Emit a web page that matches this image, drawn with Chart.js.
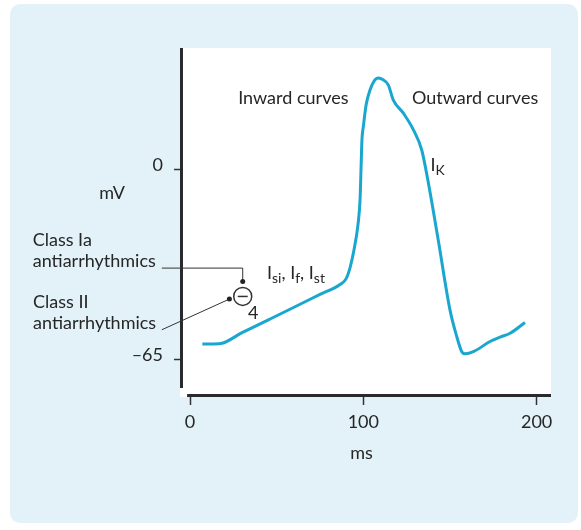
<!DOCTYPE html>
<html>
<head>
<meta charset="utf-8">
<script src="https://cdn.jsdelivr.net/npm/chart.js@4"></script>
<style>
  html, body { margin: 0; padding: 0; background: #fff; }
  #wrap { position: relative; width: 581px; height: 530px; }
  #panel { position: absolute; left: 10px; top: 4px; width: 568px; height: 519px; background: #e3f2f8; border-radius: 10px; }
  canvas { position: absolute; left: 0; top: 0; }
</style>
</head>
<body>
<div id="wrap"><div id="panel"></div><canvas id="chart" width="581" height="530"></canvas></div>
<script>
// action potential trace (ms, mV)
const timeMs = [7.1, 16.9, 30.0, 45.2, 60.0, 75.0, 86.6, 90.0, 92.3, 94.6, 96.9, 98.1, 98.7, 99.2, 100.0, 101.6, 103.9, 106.2, 108.7,
    111.4, 114.4, 117.3, 123.1, 128.9, 133.7, 137.2, 143.2, 150.0, 153.9, 156.8, 158.7, 163.5, 173.1, 178.9, 184.7, 193.3];
const voltage = [-59.6, -59.5, -55.7, -51.3, -47.0, -42.6, -39.2, -37.3, -33.5, -27.4, -18.8, -10.3, 1.0, 10.3, 14.8, 22.2, 27.4, 30.4, 31.4,
    30.8, 29.1, 23.9, 19.4, 13.7, 6.8, -3.4, -23.9, -47.9, -57.0, -62.2, -62.9, -62.2, -58.7, -57.2, -55.9, -52.2];

const xTicks = [0, 100, 200];
const yTicks = [0, -65];
const yTickLabels = ['0', '\u201365'];

const xRange = [-5.8, 208.3];
const yRange = [-77.7, 41.7];
const yAxisEnd = -74.6;   // where the vertical axis line stops
const xAxisStart = -1.7;  // where the horizontal axis line starts

const FONT = 'Lato';
const TEXT = '#262626';
const LINE = '#1aa7cf';

// text labels in data units; parts with sub:true are subscripts
const labels = [
    { parts: [{ t: 'Inward curves' }], x: 59.6, y: 24.6, align: 'center' },
    { parts: [{ t: 'Outward curves' }], x: 164.5, y: 24.6, align: 'center' },
    { parts: [{ t: 'I' }, { t: 'K', sub: true }], x: 138.8, y: 1.7, align: 'left' },
    { parts: [{ t: 'I' }, { t: 'si', sub: true }, { t: ', I' }, { t: 'f', sub: true }, { t: ', I' }, { t: 'st', sub: true }], x: 44.4, y: -35.2, align: 'left' },
    { parts: [{ t: '4' }], x: 36.4, y: -48.9, align: 'center' },
    { parts: [{ t: 'mV' }], x: -45, y: -7.9, align: 'center' },
    { parts: [{ t: 'ms' }], x: 99.0, y: -97.0, align: 'center' },
    { parts: [{ t: 'Class Ia' }], x: -90.8, y: -23.9, align: 'left' },
    { parts: [{ t: 'antiarrhythmics' }], x: -90.8, y: -31.4, align: 'left' },
    { parts: [{ t: 'Class II' }], x: -90.6, y: -45.1, align: 'left' },
    { parts: [{ t: 'antiarrhythmics' }], x: -90.6, y: -52.3, align: 'left' },
];

// pointer lines from the drug classes to the blocking symbol
const classIaPointer = [[-16.3, -33.6], [30.4, -33.6], [30.4, -38.2]];
const classIIPointer = [[-16.3, -54.7], [22.7, -44.2]];
const blockSymbol = [30.4, -43.3];

function drawRich(ctx, parts, x, y, align) {
    const big = '18px ' + FONT, small = '14px ' + FONT;
    let w = 0;
    parts.forEach(p => { ctx.font = p.sub ? small : big; w += ctx.measureText(p.t).width; });
    let cx = align === 'center' ? x - w / 2 : x;
    ctx.textAlign = 'left';
    ctx.textBaseline = 'middle';
    parts.forEach(p => {
        ctx.font = p.sub ? small : big;
        ctx.fillText(p.t, cx, p.sub ? y + 6 : y);
        cx += ctx.measureText(p.t).width;
    });
}

const decor = {
    id: 'decor',
    beforeDraw(chart) {
        const { ctx, chartArea: a } = chart;
        ctx.save();
        ctx.fillStyle = '#fff';
        ctx.fillRect(a.left, a.top, a.right - a.left, a.bottom - a.top);
        ctx.restore();
    },
    afterDraw(chart) {
        const { ctx, chartArea: a, scales: { x, y } } = chart;
        const px = v => x.getPixelForValue(v), py = v => y.getPixelForValue(v);
        ctx.save();
        ctx.strokeStyle = '#2a2a2a';
        ctx.lineWidth = 3;
        ctx.beginPath();
        ctx.moveTo(a.left + 1.5, a.top);
        ctx.lineTo(a.left + 1.5, py(yAxisEnd));
        ctx.stroke();
        ctx.beginPath();
        ctx.moveTo(px(xAxisStart), a.bottom - 1.5);
        ctx.lineTo(a.right, a.bottom - 1.5);
        ctx.stroke();

        ctx.lineWidth = 1;
        ctx.strokeStyle = '#333';
        [classIaPointer, classIIPointer].forEach(pts => {
            ctx.beginPath();
            pts.forEach((p, i) => i ? ctx.lineTo(px(p[0]), py(p[1])) : ctx.moveTo(px(p[0]), py(p[1])));
            ctx.stroke();
            const end = pts[pts.length - 1];
            ctx.fillStyle = '#222';
            ctx.beginPath();
            ctx.arc(px(end[0]), py(end[1]), 2.5, 0, Math.PI * 2);
            ctx.fill();
        });

        const bx = px(blockSymbol[0]), by = py(blockSymbol[1]);
        ctx.lineWidth = 1.5;
        ctx.beginPath();
        ctx.arc(bx, by, 9, 0, Math.PI * 2);
        ctx.stroke();
        ctx.beginPath();
        ctx.moveTo(bx - 5, by);
        ctx.lineTo(bx + 5, by);
        ctx.stroke();

        ctx.fillStyle = TEXT;
        labels.forEach(l => drawRich(ctx, l.parts, px(l.x), py(l.y), l.align));
        ctx.restore();
    }
};

new Chart(document.getElementById('chart'), {
    type: 'line',
    data: {
        datasets: [{
            data: timeMs.map((t, i) => ({ x: t, y: voltage[i] })),
            borderColor: LINE,
            borderWidth: 3,
            pointRadius: 0,
            cubicInterpolationMode: 'monotone',
            fill: false,
        }],
    },
    options: {
        responsive: false,
        animation: false,
        devicePixelRatio: 1,
        layout: { padding: { left: 0, top: 48, right: 30, bottom: 0 } },
        plugins: { legend: { display: false }, tooltip: { enabled: false } },
        scales: {
            x: {
                type: 'linear',
                min: xRange[0],
                max: xRange[1],
                afterFit: s => { s.height = 133; },
                afterBuildTicks: s => { s.ticks = xTicks.map(v => ({ value: v })); },
                border: { display: false },
                grid: { drawOnChartArea: false, drawTicks: true, tickLength: 8, tickWidth: 1.5, tickColor: '#333' },
                ticks: { color: TEXT, font: { family: FONT, size: 18 }, padding: 6, maxRotation: 0 },
            },
            y: {
                type: 'linear',
                min: yRange[0],
                max: yRange[1],
                afterFit: s => { s.width = 180; },
                afterBuildTicks: s => { s.ticks = yTicks.map(v => ({ value: v })); },
                border: { display: false },
                grid: { drawOnChartArea: false, drawTicks: true, tickLength: 6, tickWidth: 1.5, tickColor: '#333' },
                ticks: {
                    color: TEXT, font: { family: FONT, size: 18 }, padding: 11, labelOffset: -5,
                    callback: v => yTickLabels[yTicks.indexOf(v)],
                },
            },
        },
    },
    plugins: [decor],
});
</script>
</body>
</html>
